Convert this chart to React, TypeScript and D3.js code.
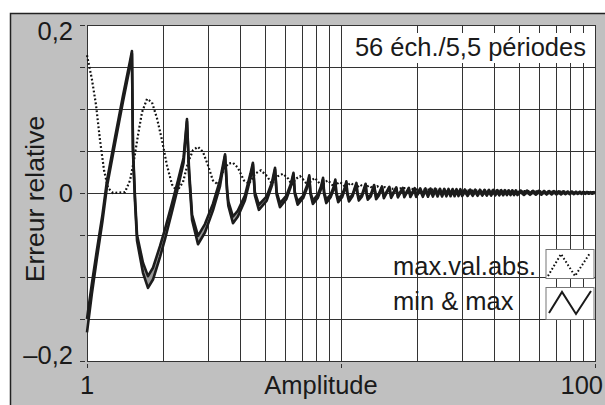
import React from "react";
import * as d3 from "d3";

// ---- data ----
const yTicks = [-0.2, -0.15, -0.1, -0.05, 0, 0.05, 0.1, 0.15, 0.2];
const yLabelVals = [0.2, 0, -0.2];
const yLabelTexts = ["0,2", "0", "\u20130,2"];
const xGrid = [1, 2, 3, 4, 5, 6, 7, 8, 9, 10, 20, 30, 40, 50, 60, 70, 80, 90, 100];
const xTickMarks = [1, 10, 100];
const xLabelVals = [1, 100];
const xLabelTexts = ["1", "100"];

// [amplitude, min, max]
const minMaxData: [number, number, number][] = [
  [1.0, -0.166, -0.15], [1.045, -0.12, -0.108], [1.095, -0.077, -0.067], [1.15, -0.034, -0.026],
  [1.199, 0.008, 0.015], [1.289, 0.059, 0.066], [1.386, 0.109, 0.116], [1.477, 0.151, 0.157],
  [1.503, 0.166, 0.169],
  [1.517, 0.049, 0.054], [1.545, -0.01, -0.005], [1.574, -0.057, -0.05], [1.661, -0.095, -0.083],
  [1.738, -0.113, -0.099], [1.819, -0.103, -0.089], [1.939, -0.076, -0.063], [2.028, -0.055, -0.043],
  [2.162, -0.022, -0.012], [2.282, 0.007, 0.015], [2.4, 0.036, 0.042], [2.475, 0.085, 0.088],
  [2.521, 0.024, 0.029], [2.592, -0.032, -0.026], [2.735, -0.061, -0.051], [2.913, -0.047, -0.037],
  [3.131, -0.021, -0.013], [3.338, 0.008, 0.015], [3.496, 0.044, 0.046],
  [3.56, 0.002, 0.005], [3.6, -0.015, -0.01], [3.756, -0.036, -0.028], [3.927, -0.028, -0.021],
  [4.185, -0.009, -0.003], [4.4, 0.018, 0.023], [4.5, 0.034, 0.036],
  [4.58, -0.003, 0.001], [4.75, -0.02, -0.014], [5.1, -0.009, -0.004], [5.35, 0.009, 0.013], [5.5, 0.028, 0.03],
  [5.58, -0.002, 0.001], [5.75, -0.017, -0.012], [6.1, -0.007, -0.003], [6.35, 0.008, 0.011], [6.5, 0.022, 0.024],
  [6.58, -0.001, 0.001], [6.75, -0.014, -0.01], [7.1, -0.006, -0.003], [7.35, 0.006, 0.009], [7.5, 0.019, 0.021],
  [7.58, -0.001, 0.001], [7.75, -0.013, -0.009], [8.1, -0.006, -0.002], [8.35, 0.005, 0.008], [8.5, 0.016, 0.018],
  [8.58, -0.001, 0.001], [8.75, -0.012, -0.008], [9.1, -0.005, -0.002], [9.35, 0.004, 0.007], [9.5, 0.014, 0.016],
  [9.58, -0.001, 0.001], [9.75, -0.011, -0.007], [10.1, -0.005, -0.002], [10.35, 0.004, 0.006], [10.5, 0.012, 0.014],
  [10.58, -0.001, 0.001], [10.75, -0.01, -0.007], [11.1, -0.004, -0.002], [11.5, 0.01, 0.012],
  [11.6, -0.001, 0.001], [11.75, -0.009, -0.006], [12.1, -0.004, -0.002], [12.5, 0.009, 0.011],
  [12.6, -0.001, 0.001], [12.75, -0.008, -0.006], [13.1, -0.004, -0.002], [13.5, 0.008, 0.0095],
  [13.75, -0.0075, -0.005], [14.1, -0.003, -0.001], [14.5, 0.0065, 0.0078],
  [14.75, -0.0062, -0.0042], [15.5, 0.0062, 0.0072], [15.75, -0.0058, -0.004], [16.5, 0.0055, 0.0066],
  [16.75, -0.0052, -0.0036], [17.5, 0.005, 0.0062], [17.75, -0.005, -0.0034], [18.5, 0.0047, 0.006],
  [18.75, -0.0048, -0.0032], [19.5, 0.0044, 0.0058], [19.75, -0.0046, -0.003],
  [20.5, 0.003, 0.0055], [21.0, -0.0045, -0.0015], [21.5, 0.0029, 0.0054], [22.0, -0.0044, -0.0014],
  [22.5, 0.0028, 0.0053], [23.0, -0.0043, -0.0013], [23.5, 0.0027, 0.0052], [24.0, -0.0042, -0.0012],
  [24.5, 0.0026, 0.005], [25.0, -0.0041, -0.0011], [25.5, 0.0025, 0.0049], [26.0, -0.004, -0.001],
  [26.5, 0.0024, 0.0048], [27.0, -0.0039, -0.0009], [27.5, 0.0023, 0.0047], [28.0, -0.0038, -0.0008],
  [28.5, 0.0022, 0.0046], [29.0, -0.0037, -0.0008], [29.5, 0.0021, 0.0045], [30.0, -0.0036, -0.0007],
  [30.75, 0.0014, 0.0042], [31.5, -0.0035, -0.0006], [32.25, 0.0014, 0.0041], [33.0, -0.0034, -0.0006],
  [33.75, 0.0013, 0.004], [34.5, -0.0033, -0.0005], [35.25, 0.0013, 0.0039], [36.0, -0.0032, -0.0005],
  [36.75, 0.0012, 0.0038], [37.5, -0.0031, -0.0004], [38.25, 0.0012, 0.0037], [39.0, -0.003, -0.0004],
  [39.75, 0.0011, 0.0036], [40.5, -0.0029, -0.0003], [41.25, 0.0011, 0.0035], [42.0, -0.0028, -0.0003],
  [42.75, 0.001, 0.0034], [43.5, -0.0027, -0.0002], [44.25, 0.001, 0.0033], [45.0, -0.0026, -0.0002],
  [45.75, 0.0009, 0.0032], [46.5, -0.0025, -0.0001], [47.25, 0.0009, 0.0032], [48.0, -0.0025, -0.0001],
  [48.75, 0.0008, 0.0031], [49.5, -0.0024, 0.0],
  [51.0, 0.0008, 0.003], [52.5, -0.0023, 0.0], [54.0, 0.0007, 0.0029], [55.5, -0.0022, 0.0],
  [57.0, 0.0007, 0.0027], [58.5, -0.0021, 0.0], [60.0, 0.0006, 0.0026], [61.5, -0.002, 0.0],
  [63.0, 0.0006, 0.0025], [64.5, -0.0019, 0.0], [66.0, 0.0005, 0.0024], [67.5, -0.0018, 0.0],
  [69.0, 0.0005, 0.0022], [70.5, -0.0017, 0.0], [72.0, 0.0004, 0.0021], [73.5, -0.0016, 0.0],
  [75.0, 0.0004, 0.002], [76.5, -0.0015, 0.0], [78.0, 0.0003, 0.0018], [79.5, -0.0014, 0.0],
  [81.0, 0.0003, 0.0017], [82.5, -0.0013, 0.0], [84.0, 0.0002, 0.0015], [85.5, -0.0012, 0.0],
  [87.0, 0.0002, 0.0014], [88.5, -0.0011, 0.0], [90.0, 0.0001, 0.0013], [91.5, -0.001, 0.0],
  [93.0, 0.0001, 0.0012], [94.5, -0.0009, 0.0], [96.0, 0.0, 0.0011], [97.5, -0.0009, 0.0],
  [99.0, 0.0, 0.001], [100.0, -0.0008, 0.0002],
];

// [amplitude, value]
const maxAbsData: [number, number][] = [
  [1.0, 0.164], [1.046, 0.135], [1.085, 0.105], [1.125, 0.063], [1.167, 0.027], [1.21, 0.006],
  [1.266, 0.0], [1.411, 0.001], [1.477, 0.015], [1.531, 0.039], [1.588, 0.069], [1.646, 0.096],
  [1.723, 0.112], [1.802, 0.108], [1.886, 0.089], [1.973, 0.063], [2.064, 0.033], [2.162, 0.01],
  [2.261, 0.002], [2.388, 0.013], [2.497, 0.036], [2.614, 0.051], [2.735, 0.055], [2.86, 0.049],
  [2.994, 0.033], [3.131, 0.015], [3.277, 0.01], [3.428, 0.025], [3.592, 0.035], [3.756, 0.036],
  [3.927, 0.03], [4.148, 0.015], [4.344, 0.011], [4.587, 0.023], [4.838, 0.027], [5.114, 0.02],
  [5.346, 0.011], [5.645, 0.02], [5.913, 0.023], [6.2, 0.017], [6.4, 0.01], [6.65, 0.017],
  [6.9, 0.02], [7.15, 0.015], [7.4, 0.009], [7.65, 0.015], [7.9, 0.018], [8.15, 0.013],
  [8.4, 0.008], [8.65, 0.013], [8.9, 0.015], [9.15, 0.011], [9.4, 0.007], [9.65, 0.011],
  [9.9, 0.013], [10.2, 0.01], [10.45, 0.006], [10.7, 0.01], [10.95, 0.012], [11.3, 0.008],
  [11.5, 0.006], [11.9, 0.01], [12.4, 0.006], [12.9, 0.009], [13.4, 0.005], [13.9, 0.008],
  [14.4, 0.005], [14.9, 0.007], [16.0, 0.005], [18.0, 0.006], [20.0, 0.004], [25.0, 0.004],
  [30.0, 0.003], [40.0, 0.003], [60.0, 0.002], [100.0, 0.001],
];

const FONT = "'Liberation Sans', Arial, Helvetica, sans-serif";

export default function App() {
  const W = 605, H = 405;
  const left = 87, right = 595, top = 25, bottom = 361;
  const x = d3.scaleLog().domain([1, 100]).range([left, right]);
  const y = d3.scaleLinear().domain([-0.2, 0.2]).range([bottom, top]);

  const lineMax = d3.line<[number, number, number]>().x(d => x(d[0])).y(d => y(d[2]));
  const lineMin = d3.line<[number, number, number]>().x(d => x(d[0])).y(d => y(d[1]));
  const band = d3.area<[number, number, number]>().x(d => x(d[0])).y0(d => y(d[1])).y1(d => y(d[2]));
  const dotLine = d3.line<[number, number]>().x(d => x(d[0])).y(d => y(d[1]));

  const gridColor = "#333";
  const fs = 25.5;
  const ink = "#1a1a1a";

  return (
    <svg width={W} height={H} style={{ position: "absolute", left: 0, top: 0 }} fontFamily={FONT}>
      <rect x={0} y={0} width={W} height={H} fill="#fff" />
      <rect x={10.5} y={13.5} width={700} height={500} fill="#c0c0c0" stroke="#222" strokeWidth={1.5} />
      <rect x={left} y={top} width={right - left} height={bottom - top} fill="#fff" />
      {/* grid */}
      {xGrid.map(v => (
        <line key={"gx" + v} x1={Math.round(x(v)) + 0.5} x2={Math.round(x(v)) + 0.5} y1={top} y2={bottom}
          stroke={gridColor} strokeWidth={1} />
      ))}
      {yTicks.map(v => (
        <line key={"gy" + v} x1={left} x2={right} y1={Math.round(y(v)) + 0.5} y2={Math.round(y(v)) + 0.5}
          stroke={gridColor} strokeWidth={1} />
      ))}
      <rect x={left + 0.5} y={top + 0.5} width={right - left} height={bottom - top} fill="none" stroke="#333" strokeWidth={1} />
      {/* ticks */}
      {yTicks.map(v => (
        <line key={"ty" + v} x1={80} x2={85} y1={Math.round(y(v)) + 0.5} y2={Math.round(y(v)) + 0.5} stroke="#333" strokeWidth={1} />
      ))}
      {xTickMarks.map(v => (
        <line key={"tx" + v} x1={Math.round(x(v)) + 0.5} x2={Math.round(x(v)) + 0.5} y1={364} y2={368} stroke="#333" strokeWidth={1} />
      ))}
      {/* data */}
      <path d={dotLine(maxAbsData) || ""} fill="none" stroke="#111" strokeWidth={2.2}
        strokeDasharray="1.8 2.2" strokeLinecap="butt" />
      <path d={band(minMaxData) || ""} fill="#9a9a9a" stroke="none" />
      <path d={lineMax(minMaxData) || ""} fill="none" stroke="#1c1c1c" strokeWidth={2.6} strokeLinejoin="round" />
      <path d={lineMin(minMaxData) || ""} fill="none" stroke="#1c1c1c" strokeWidth={2.6} strokeLinejoin="round" />
      {/* title box */}
      <rect x={343} y={33} width={250} height={30} fill="#fff" />
      <text x={586} y={56} textAnchor="end" fontSize={fs} fill={ink}>56 éch./5,5 périodes</text>
      {/* legend */}
      <text x={393} y={275} fontSize={fs} fill={ink}>max.val.abs.</text>
      <text x={393} y={310} fontSize={fs} fill={ink}>min &amp; max</text>
      <rect x={546} y={249.5} width={48} height={29} fill="#fff" stroke="#777" strokeWidth={1} />
      <polyline points="548,276 561,254 575,276 590,253" fill="none" stroke="#111" strokeWidth={2} strokeDasharray="1.6 2.2" />
      <rect x={546} y={287.5} width={48} height={32} fill="#fff" stroke="#777" strokeWidth={1} />
      <polyline points="549,313 562,292 576,314 591,291" fill="none" stroke={ink} strokeWidth={2} />
      {/* axis labels */}
      {yLabelVals.map((v, i) => (
        <text key={"yl" + v} x={73} y={Math.min(Math.max(y(v), 31), 355)} dy="0.35em" textAnchor="end"
          fontSize={fs} fill={ink}>{yLabelTexts[i]}</text>
      ))}
      {xLabelVals.map((v, i) => (
        <text key={"xl" + v} x={i === xLabelVals.length - 1 ? 603 : x(v)} y={394}
          textAnchor={i === xLabelVals.length - 1 ? "end" : "middle"} fontSize={fs} fill={ink}>{xLabelTexts[i]}</text>
      ))}
      <text x={321} y={394} textAnchor="middle" fontSize={fs} fill={ink}>Amplitude</text>
      <text transform="translate(44,199) rotate(-90)" textAnchor="middle" fontSize={26.5} fill={ink}>Erreur relative</text>
    </svg>
  );
}
